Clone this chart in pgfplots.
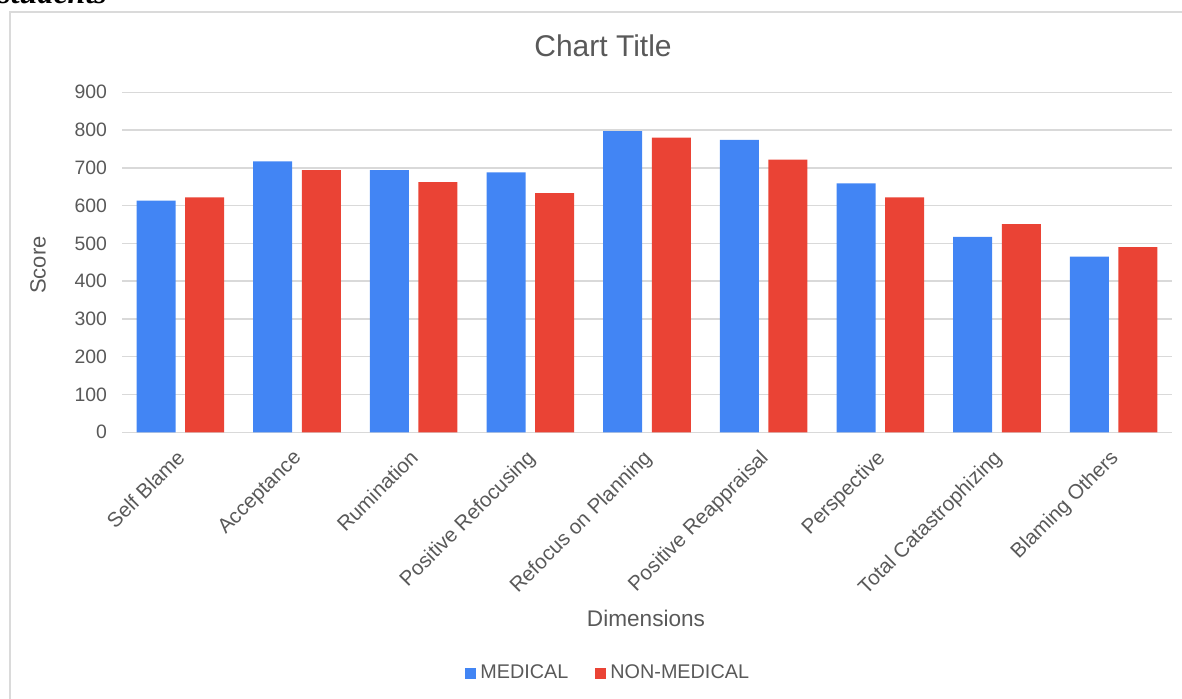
\documentclass[border=0pt]{standalone}
\usepackage{pgfplots}
\pgfplotsset{compat=1.18}
\usepackage{fontspec}
\setmainfont{Liberation Sans}
\newfontfamily\serifit{Liberation Serif}
\definecolor{medblue}{HTML}{4285F4}
\definecolor{nonred}{HTML}{EA4335}
\definecolor{gridgray}{HTML}{D9D9D9}
\definecolor{framegray}{HTML}{DADADA}
\definecolor{txtgray}{HTML}{595959}
\begin{document}
\begin{tikzpicture}
\useasboundingbox (0,0) rectangle (591pt,349.5pt);
\draw[framegray, line width=1pt] (5pt,-10pt) rectangle (600pt,343.5pt);
\node[anchor=base west, inner sep=0pt, font=\serifit\bfseries\itshape\fontsize{16}{18}\selectfont] at (-1pt,347.5pt) {students};
\begin{axis}[
  at={(61pt,133.35pt)}, anchor=south west,
  scale only axis, width=525pt, height=170pt,
  xmin=-0.5, xmax=8.5, ymin=0, ymax=900,
  ybar=4.8pt, bar width=19.5pt,
  xtick={0,...,8},
  xticklabels={Self Blame,Acceptance,Rumination,Positive Refocusing,Refocus on Planning,Positive Reappraisal,Perspective,Total Catastrophizing,Blaming Others},
  ytick={0,100,...,900},
  ymajorgrids, grid style={gridgray, line width=0.75pt},
  axis line style={draw=none},
  major tick length=0pt,
  tick label style={text=txtgray},
  yticklabel style={font=\fontsize{9.7}{11}\selectfont, xshift=-4pt},
  xticklabel style={xshift=-2.5pt, yshift=-6.5pt, rotate=45, anchor=north east, inner sep=1pt, font=\fontsize{10.3}{12}\selectfont},
  /pgf/number format/assume math mode=true,
  legend columns=2,
  legend style={at={(0.464,-0.708)}, anchor=center, draw=none, fill=none,
    font=\fontsize{9.9}{12}\selectfont, text=txtgray,
    /tikz/every even column/.append style={column sep=11.5pt}},
  legend image code/.code={\fill[#1] (0pt,-2.75pt) rectangle (5.5pt,2.75pt);},
]
\addplot[fill=medblue, draw=none] coordinates {(0,613) (1,717) (2,694) (3,688) (4,797) (5,774) (6,659) (7,517) (8,465)};
\addplot[fill=nonred, draw=none] coordinates {(0,622) (1,694) (2,662) (3,633) (4,780) (5,722) (6,622) (7,551) (8,490)};
\legend{MEDICAL,NON-MEDICAL}
\end{axis}
\node[text=txtgray, font=\fontsize{15}{18}\selectfont] at (301.5pt,326.5pt) {Chart Title};
\node[text=txtgray, font=\fontsize{11.3}{13}\selectfont] at (323pt,40.5pt) {Dimensions};
\node[text=txtgray, rotate=90, font=\fontsize{11}{13}\selectfont] at (19pt,217pt) {Score};
\end{tikzpicture}
\end{document}
